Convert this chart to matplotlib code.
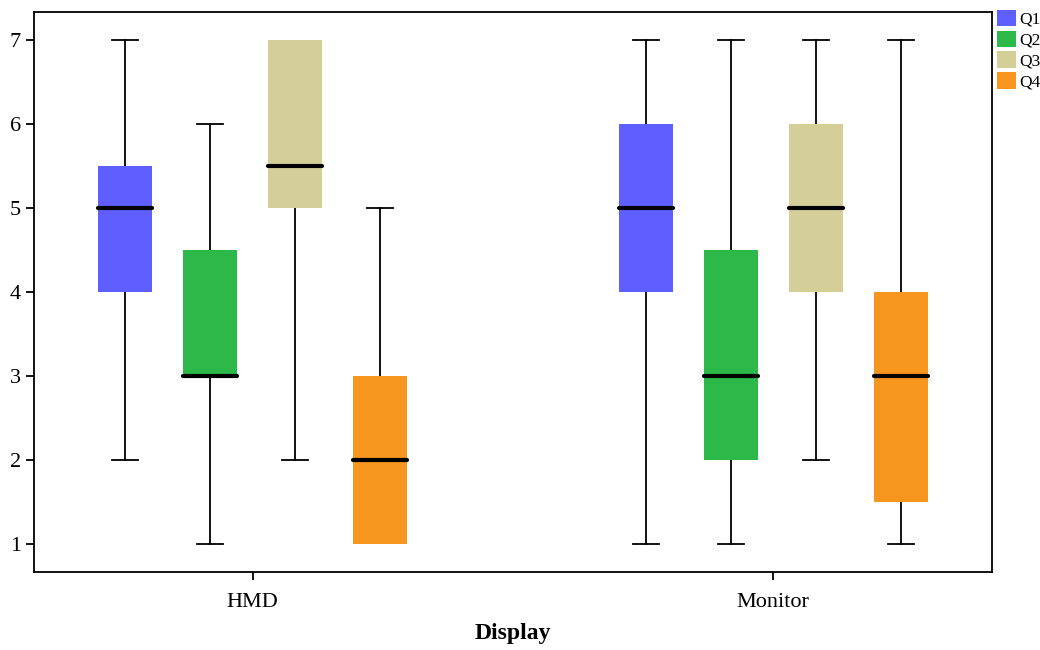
import matplotlib.pyplot as plt
from matplotlib.patches import Patch

plt.rcParams["font.family"] = ["Liberation Serif", "DejaVu Serif"]

displays = ["HMD", "Monitor"]
questions = ["Q1", "Q2", "Q3", "Q4"]
colors = ["#5f5fff", "#2db84a", "#d4cf98", "#f7961e"]

# per display, per question: (whislo, q1, med, q3, whishi)
hmd_stats = [(2, 4, 5, 5.5, 7), (1, 3, 3, 4.5, 6), (2, 5, 5.5, 7, 7), (1, 1, 2, 3, 5)]
monitor_stats = [(1, 4, 5, 6, 7), (1, 2, 3, 4.5, 7), (2, 4, 5, 6, 7), (1, 1.5, 3, 4, 7)]
all_stats = [hmd_stats, monitor_stats]

offsets = [-0.245, -0.082, 0.082, 0.245]
box_width = 0.104

fig = plt.figure(figsize=(10.4, 6.5), dpi=100)
ax = fig.add_axes([0.0327, 0.12, 0.9211, 0.8615])

for gi, stats in enumerate(all_stats):
    for qi, (lo, q1, med, q3, hi) in enumerate(stats):
        d = dict(whislo=lo, q1=q1, med=med, q3=q3, whishi=hi, fliers=[])
        parts = ax.bxp([d], positions=[gi + offsets[qi]], widths=box_width,
                       patch_artist=True, showfliers=False,
                       boxprops=dict(facecolor=colors[qi], edgecolor="none", linewidth=0, zorder=3),
                       medianprops=dict(color="black", linewidth=3, solid_capstyle="round", zorder=4),
                       whiskerprops=dict(color="black", linewidth=1.3, zorder=2),
                       capprops=dict(color="black", linewidth=1.3, zorder=2),
                       capwidths=0.05, manage_ticks=False)
        # caps sitting on the box edge are hidden behind the box in the reference
        if lo == q1:
            parts["caps"][0].set_visible(False)
        if hi == q3:
            parts["caps"][1].set_visible(False)

ax.set_xlim(-0.42, 1.42)
ax.set_ylim(1 - 1 / 3, 7 + 1 / 3)
ax.set_xticks([0, 1])
ax.set_xticklabels(displays)
ax.set_yticks(range(1, 8))
ax.tick_params(direction="out", length=6, width=1.3, labelsize=16)
ax.tick_params(axis="x", pad=9)
for s in ax.spines.values():
    s.set_linewidth(1.3)
ax.set_xlabel("Display", fontsize=17, fontweight="bold", labelpad=8)

handles = [Patch(facecolor=c, edgecolor="none", label=q) for c, q in zip(colors, questions)]
fig.legend(handles=handles, loc="upper left", bbox_to_anchor=(0.9585, 0.985),
           frameon=False, fontsize=12.5, handlelength=1.1, handleheight=1.1,
           handletextpad=0.2, labelspacing=0.15, borderpad=0, borderaxespad=0)

fig.savefig("out.png", dpi=100)
